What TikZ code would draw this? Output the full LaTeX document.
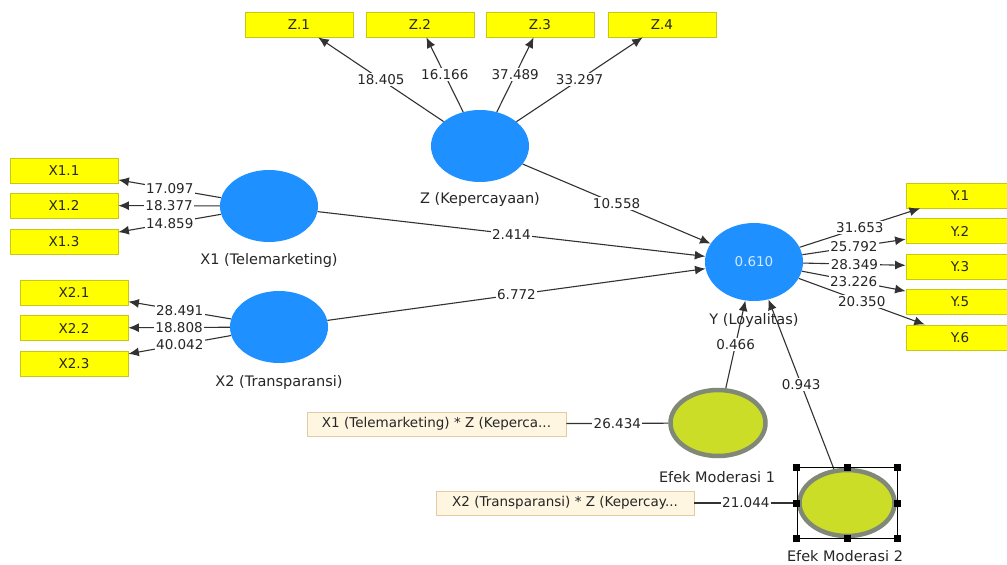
\documentclass[tikz,border=0pt]{standalone}
\usepackage{fontspec}
\setmainfont{DejaVu Sans}
\usetikzlibrary{arrows.meta}
\usetikzlibrary{shapes}

\definecolor{lvblue}{RGB}{30,144,255}
\definecolor{indyellow}{RGB}{255,255,0}
\definecolor{indborder}{RGB}{200,200,20}
\definecolor{modgreen}{RGB}{204,221,40}
\definecolor{modring}{RGB}{128,136,120}
\definecolor{prodfill}{RGB}{255,246,226}
\definecolor{prodborder}{RGB}{224,204,160}
\definecolor{txtgray}{RGB}{38,38,38}
\definecolor{linegray}{RGB}{50,50,50}

\begin{document}
\begin{tikzpicture}[x = 1pt, y = -1pt, font = \fontsize{13.5}{16}\selectfont, text = txtgray]
	\tikzstyle{latentStyle} = [shape = ellipse, minimum width = 98pt, minimum height = 72pt, inner sep = 0pt, fill = lvblue]
	\tikzstyle{moderatorStyle} = [shape = ellipse, minimum width = 95pt, minimum height = 66pt, inner sep = 0pt, fill = modgreen, draw = modring, line width = 4.5pt]
	\tikzstyle{indicatorStyle} = [shape = rectangle, minimum width = 108pt, minimum height = 25pt, inner sep = 0pt, fill = indyellow, draw = indborder, line width = 0.8pt]
	\tikzstyle{productStyle} = [shape = rectangle, minimum height = 24pt, inner sep = 0pt, fill = prodfill, draw = prodborder, line width = 0.8pt]
	\tikzstyle{nameStyle} = [inner sep = 0pt, font = \fontsize{14.5}{16}\selectfont]
	\tikzstyle{pathStyle} = [draw = linegray, line width = 1.1pt, -{Latex[length = 10.5pt, width = 9pt]}]
	\tikzstyle{plainStyle} = [draw = linegray, line width = 1.1pt]
	\tikzstyle{valueStyle} = [fill = white, inner sep = 1.5pt]
	\useasboundingbox (0, 0) rectangle (1007, 565);
	\fill[white] (0, 0) rectangle (1007, 565);
	% latent variables
	\node[latentStyle] (Z) at (480, 146) {};
	\node[latentStyle] (X1) at (269, 206) {};
	\node[latentStyle] (X2) at (279, 327) {};
	\node[latentStyle, minimum height = 78pt, text = lvblue!20] (Y) at (754, 262) {0.610};
	\node[moderatorStyle] (EM1) at (718, 423) {};
	\node[moderatorStyle] (EM2) at (847, 503) {};
	\node[nameStyle] (Zlbl) at (480, 200) {Z (Kepercayaan)};
	\node[nameStyle] (X1lbl) at (269, 260) {X1 (Telemarketing)};
	\node[nameStyle] (X2lbl) at (279, 382) {X2 (Transparansi)};
	\node[nameStyle] (Ylbl) at (754, 320) {Y (Loyalitas)};
	\node[nameStyle] (EM1lbl) at (717, 477) {Efek Moderasi 1};
	\node[nameStyle] (EM2lbl) at (845, 556) {Efek Moderasi 2};
	% indicators
	\node[indicatorStyle] (z1) at (299, 24.5) {Z.1};
	\node[indicatorStyle] (z2) at (420, 24.5) {Z.2};
	\node[indicatorStyle] (z3) at (540, 24.5) {Z.3};
	\node[indicatorStyle] (z4) at (662, 24.5) {Z.4};
	\node[indicatorStyle] (x11) at (64, 170.5) {X1.1};
	\node[indicatorStyle] (x12) at (64, 205.5) {X1.2};
	\node[indicatorStyle] (x13) at (64, 241.5) {X1.3};
	\node[indicatorStyle] (x21) at (74, 292.5) {X2.1};
	\node[indicatorStyle] (x22) at (74, 328) {X2.2};
	\node[indicatorStyle] (x23) at (74, 363.5) {X2.3};
	\node[indicatorStyle] (y1) at (960, 195.5) {Y.1};
	\node[indicatorStyle] (y2) at (960, 231) {Y.2};
	\node[indicatorStyle] (y3) at (960, 266.5) {Y.3};
	\node[indicatorStyle] (y5) at (960, 301.5) {Y.5};
	\node[indicatorStyle] (y6) at (960, 337.5) {Y.6};
	\node[productStyle, minimum width = 259pt] (p1) at (436.5, 424) {X1 (Telemarketing) * Z (Keperca...};
	\node[productStyle, minimum width = 258pt] (p2) at (565, 503) {X2 (Transparansi) * Z (Kepercay...};
	% outer loadings
	\draw[pathStyle] (Z) -- node[valueStyle] {18.405} (z1);
	\draw[pathStyle] (Z) -- node[valueStyle] {16.166} (z2);
	\draw[pathStyle] (Z) -- node[valueStyle] {37.489} (z3);
	\draw[pathStyle] (Z) -- node[valueStyle] {33.297} (z4);
	\draw[pathStyle] (X1) -- node[valueStyle] {17.097} (x11);
	\draw[pathStyle] (X1) -- node[valueStyle] {18.377} (x12);
	\draw[pathStyle] (X1) -- node[valueStyle] {14.859} (x13);
	\draw[pathStyle] (X2) -- node[valueStyle] {28.491} (x21);
	\draw[pathStyle] (X2) -- node[valueStyle] {18.808} (x22);
	\draw[pathStyle] (X2) -- node[valueStyle] {40.042} (x23);
	\draw[pathStyle] (Y) -- node[valueStyle] {31.653} (y1);
	\draw[pathStyle] (Y) -- node[valueStyle] {25.792} (y2);
	\draw[pathStyle] (Y) -- node[valueStyle] {28.349} (y3);
	\draw[pathStyle] (Y) -- node[valueStyle] {23.226} (y5);
	\draw[pathStyle] (Y) -- node[valueStyle] {20.350} (y6);
	\draw[plainStyle] (p1) -- node[valueStyle] {26.434} (EM1);
	\draw[plainStyle] (p2) -- node[valueStyle] {21.044} (EM2);
	% inner paths
	\draw[pathStyle] (Z) -- node[valueStyle] {10.558} (Y);
	\draw[pathStyle] (X1) -- node[valueStyle] {2.414} (Y);
	\draw[pathStyle] (X2) -- node[valueStyle] {6.772} (Y);
	\draw[pathStyle] (EM1) -- node[valueStyle] {0.466} (Y);
	\draw[pathStyle] (EM2) -- node[valueStyle] {0.943} (Y);
	% selection frame
	\node[draw = black, line width = 0.8pt, minimum width = 100pt, minimum height = 71pt, inner sep = 0pt] (sel) at (EM2) {};
	\foreach \a in {north west, north, north east, east, south east, south, south west, west}
		\fill[black] (sel.\a) +(-3.5, -3.5) rectangle +(3.5, 3.5);
\end{tikzpicture}
\end{document}
